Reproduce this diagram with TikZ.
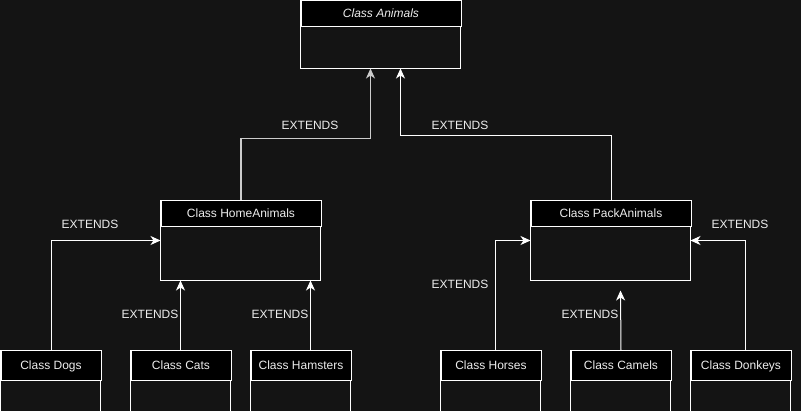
\documentclass[tikz,border=0pt]{standalone}
\usepackage{fontspec}
\setmainfont{Liberation Sans}
\usetikzlibrary{arrows.meta}
\definecolor{bg}{HTML}{141414}
\definecolor{txt}{HTML}{EDEDED}
\tikzset{
  hdr/.style={draw=white, line width=1pt, fill=black, minimum height=26pt, inner sep=0pt, text height=9pt, text depth=2.5pt, text=txt, font=\fontsize{12}{14}\selectfont},
  bdy/.style={draw=white, line width=1pt, inner sep=0pt},
  ext/.style={draw=white, line width=1pt, -{Stealth[length=10pt,width=9pt,inset=3pt]}},
  lbl/.style={text=txt, font=\fontsize{12}{14}\selectfont, inner sep=0pt},
}
\begin{document}
\begin{tikzpicture}[x=1pt,y=-1pt]
\fill[bg] (0,0) rectangle (801,411);
\useasboundingbox (0,0) rectangle (801,411);
% Animals
\draw[bdy] (300.5,0.5) rectangle (460.5,68.5);
\node[hdr, minimum width=160pt, anchor=north west, font=\fontsize{12}{14}\selectfont\itshape] (animals) at (300.5,0.5) {Class Animals};
\coordinate (animalsB1) at (370.5,68.5);
\coordinate (animalsB2) at (400.5,68.5);
% HomeAnimals
\draw[bdy] (160.5,200.5) rectangle (320.5,280.5);
\node[hdr, minimum width=160pt, anchor=north west] (home) at (160.5,200.5) {Class HomeAnimals};
% PackAnimals
\draw[bdy] (530.5,200.5) rectangle (690.5,280.5);
\node[hdr, minimum width=160pt, anchor=north west] (pack) at (530.5,200.5) {Class PackAnimals};
% bottom row
\foreach \nm/\xx/\tt in {dogs/0.5/Class Dogs, cats/130.5/Class Cats, hamsters/250.5/Class Hamsters, horses/440.5/Class Horses, camels/570.5/Class Camels, donkeys/690.5/Class Donkeys}{
  \draw[bdy] (\xx,350.5) rectangle (\xx+100,411.5);
  \node[hdr, minimum width=100pt, minimum height=30pt, anchor=north west] (\nm) at (\xx,350.5) {\tt};
}
% connectors to Animals
\draw[ext, draw=white!80!black, line width=1.3pt] (home.north) -- ++(0,-62) -| (animalsB1);
\draw[ext] (pack.north) -- ++(0,-65) -| (animalsB2);
\node[lbl] (l1) at (310,125) {EXTENDS};
\node[lbl] (l2) at (460,125) {EXTENDS};
% connectors to HomeAnimals
\coordinate (homeL) at (160.5,240.5);
\draw[ext] (dogs.north) |- (homeL);
\node[lbl] (l3) at (90,224) {EXTENDS};
\coordinate (homeC) at (180.5,280.5);
\draw[ext] (cats.north -| homeC) -- (homeC);
\node[lbl] (l4) at (150,314) {EXTENDS};
\coordinate (homeR) at (310.5,280.5);
\draw[ext] (hamsters.north -| homeR) -- (homeR);
\node[lbl] (l5) at (280,314) {EXTENDS};
% connectors to PackAnimals
\coordinate (packL) at (530.5,240.5);
\draw[ext] (horses.north -| 495.5,0) |- (packL);
\node[lbl] (l6) at (460,284) {EXTENDS};
\coordinate (packC) at (620.5,290.5);
\draw[ext] (camels.north) -- (packC);
\node[lbl] (l7) at (590,314) {EXTENDS};
\coordinate (packR) at (690.5,240.5);
\draw[ext] (donkeys.north -| 745.5,0) |- (packR);
\node[lbl] (l8) at (740,224) {EXTENDS};
\end{tikzpicture}
\end{document}
